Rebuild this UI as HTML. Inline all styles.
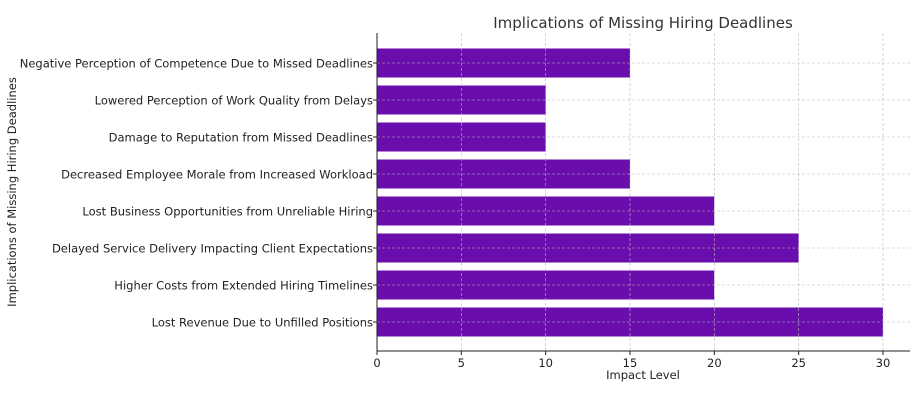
<!DOCTYPE html>
<html><head><meta charset="utf-8"><style>
body{margin:0;background:#fff;font-family:"Liberation Sans","DejaVu Sans",sans-serif}
</style></head><body>
<svg id="chart" width="913" height="406" xmlns="http://www.w3.org/2000/svg" font-family="DejaVu Sans, Liberation Sans, sans-serif"></svg>
<script>
const categories=["Lost Revenue Due to Unfilled Positions","Higher Costs from Extended Hiring Timelines","Delayed Service Delivery Impacting Client Expectations","Lost Business Opportunities from Unreliable Hiring","Decreased Employee Morale from Increased Workload","Damage to Reputation from Missed Deadlines","Lowered Perception of Work Quality from Delays","Negative Perception of Competence Due to Missed Deadlines"];
const values=[30,20,25,20,15,10,10,15];
const xTicks=[0,5,10,15,20,25,30];
const svg=document.getElementById('chart');
const NS='http://www.w3.org/2000/svg';
const L=377,R=910,T=33,B=351;
const x=v=>L+v*(883-L)/30;
const y=i=>322-i*37;
function el(t,a,txt){const e=document.createElementNS(NS,t);for(const k in a)e.setAttribute(k,a[k]);if(txt!==undefined)e.textContent=txt;svg.appendChild(e);return e;}
categories.forEach((c,i)=>{
 const b=el('rect',{x:L,y:y(i)-14.5,width:x(values[i])-L,height:29,fill:'#6a0dad'});
 
 
 const t=el('text',{x:L-4,y:y(i)+4.5,'text-anchor':'end','font-size':11.5,fill:'#222'},c);
 
 
 const g=el('line',{x1:L,x2:R,y1:y(i),y2:y(i),stroke:'#bbb','stroke-width':0.6,'stroke-dasharray':'3,2'});
 
 
 el('line',{x1:L-4,x2:L,y1:y(i),y2:y(i),stroke:'#222'});
});
xTicks.forEach(v=>{
 const g=el('line',{x1:x(v),x2:x(v),y1:T,y2:B,stroke:'#bbb','stroke-width':0.6,'stroke-dasharray':'3,2'});
 
 
 el('line',{x1:x(v),x2:x(v),y1:B,y2:B+4,stroke:'#222'});
 const t=el('text',{x:x(v),y:B+16,'text-anchor':'middle','font-size':11.5,fill:'#222'},String(v));
 
 
});
const ax=el('path',{d:`M${L},${T}V${B}H${R}`,fill:'none',stroke:'#222','stroke-width':1});


const tt=el('text',{x:643,y:28,'text-anchor':'middle','font-size':15,fill:'#333'},'Implications of Missing Hiring Deadlines');


const xt=el('text',{x:643,y:379,'text-anchor':'middle','font-size':11.5,fill:'#222'},'Impact Level');


const yt=el('text',{x:16,y:192,'text-anchor':'middle','font-size':11.5,fill:'#222',transform:'rotate(-90 16 192)'},'Implications of Missing Hiring Deadlines');


</script>
</body></html>
